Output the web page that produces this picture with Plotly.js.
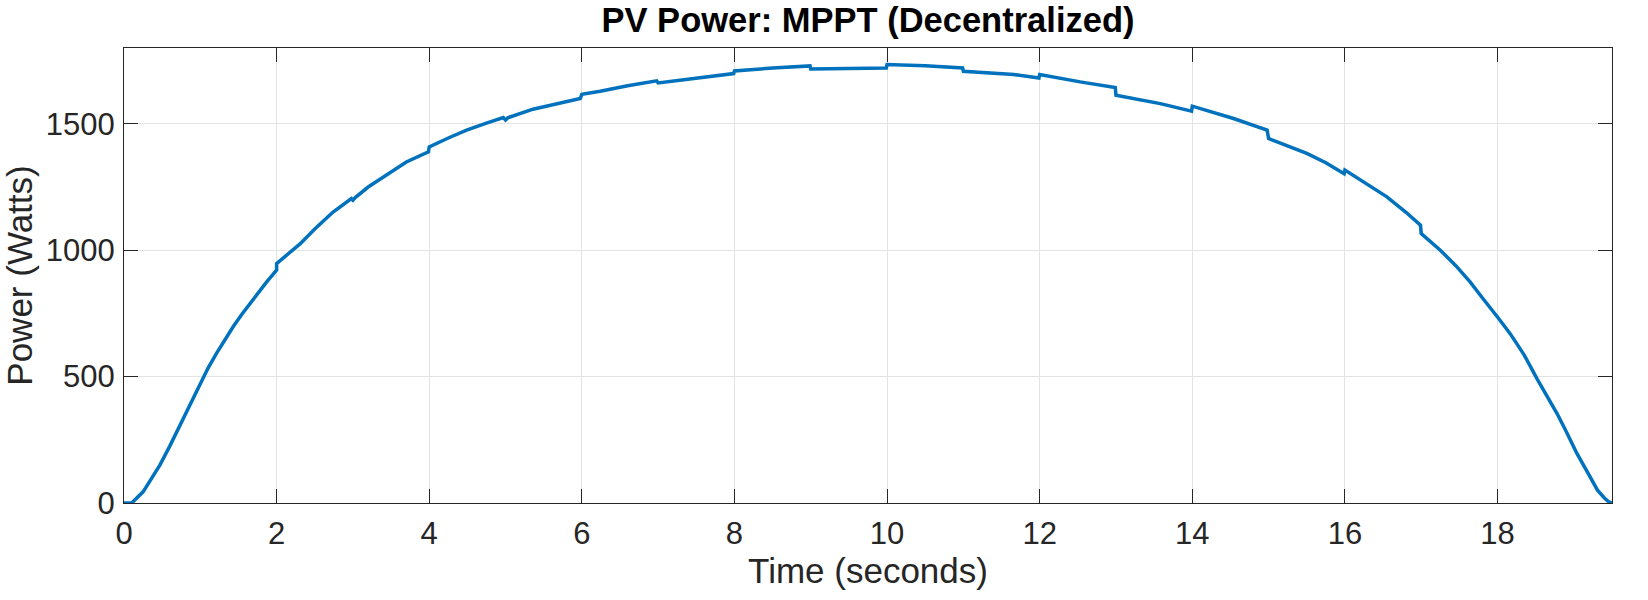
<!DOCTYPE html>
<html>
<head>
<meta charset="utf-8">
<script src="https://cdn.plot.ly/plotly-3.0.1.min.js"></script>
<style>
  html, body { margin: 0; padding: 0; background: #fff; }
  #plot { width: 1648px; height: 600px; }
</style>
</head>
<body>
<div id="plot"></div>
<script>
// PV power over time (steps happen at each MPPT update, every 1 s)
const timeSec = [
    0, 0.1, 0.25, 0.47, 0.6, 0.8, 1.0, 1.1, 1.21, 1.32, 1.43, 1.54, 1.65, 1.76, 1.87, 2.0,
    2.0, 2.31, 2.5, 2.74, 2.98, 3.0, 3.03, 3.2, 3.4, 3.7, 3.99,
    4.0, 4.25, 4.49, 4.75, 4.97, 5.0, 5.03, 5.36, 5.7, 5.98,
    6.0, 6.24, 6.6, 6.98,
    7.0, 7.64, 7.99,
    8.0, 8.5, 8.99,
    9.0, 9.99,
    10.0, 10.5, 10.99,
    11.0, 11.66, 11.99,
    12.0, 12.53, 12.99,
    13.0, 13.58, 13.99,
    14.0, 14.54, 14.98,
    15.0, 15.5, 15.75, 15.99,
    16.0, 16.25, 16.55, 16.8, 16.99,
    17.0, 17.25, 17.45, 17.64, 17.8, 17.99, 18.02, 18.17, 18.35, 18.52, 18.65, 18.78, 18.9,
    19.04, 19.18, 19.31, 19.4, 19.46, 19.5
];
const powerW = [
    0, 0, 44, 150, 225, 350, 473, 533, 591, 645, 697, 745, 789, 833, 875, 921,
    947, 1026, 1084, 1151, 1204, 1198, 1208, 1250, 1290, 1349, 1389,
    1409, 1444, 1475, 1503, 1525, 1515, 1524, 1558, 1582, 1600,
    1617, 1629, 1651, 1670,
    1662, 1686, 1699,
    1709, 1721, 1729,
    1717, 1721,
    1735, 1730, 1721,
    1708, 1695, 1681,
    1695, 1666, 1644,
    1613, 1580, 1550,
    1570, 1521, 1475,
    1442, 1383, 1346, 1303,
    1317, 1268, 1211, 1150, 1099,
    1066, 1000, 940, 875, 812, 735, 728, 668, 585, 490, 422, 354, 283,
    196, 121, 51, 20, 4, 0
];

const xTicks = [0, 2, 4, 6, 8, 10, 12, 14, 16, 18];
const yTicks = [0, 500, 1000, 1500];

const FONT = "'Liberation Sans', Arial, Helvetica, sans-serif";
const AXIS_CLR = "#262626";

const trace = {
    x: timeSec,
    y: powerW,
    mode: "lines",
    line: {color: "#0072BD", width: 3.5},
    hoverinfo: "x+y"
};

const axisStyle = {
    showline: true,
    linecolor: AXIS_CLR,
    linewidth: 1,
    mirror: "ticks",
    ticks: "inside",
    ticklen: 14,
    tickwidth: 1,
    tickcolor: AXIS_CLR,
    showgrid: true,
    gridcolor: "#e3e3e3",
    gridwidth: 1,
    zeroline: false,
    tickfont: {size: 31, family: FONT, color: AXIS_CLR}
};

const layout = {
    width: 1648,
    height: 600,
    margin: {l: 124, r: 36, t: 48, b: 97},
    paper_bgcolor: "#fff",
    plot_bgcolor: "#fff",
    showlegend: false,
    title: {
        text: "<b>PV Power: MPPT (Decentralized)</b>",
        font: {size: 34.5, family: FONT, color: "#000"},
        x: 0.5, xref: "paper",
        y: 0.967, yref: "container", yanchor: "middle"
    },
    xaxis: Object.assign({}, axisStyle, {
        range: [0, 19.5],
        tickvals: xTicks,
        ticktext: xTicks.map(String),
        ticklabelstandoff: 3,
        title: {text: "Time (seconds)", font: {size: 35, family: FONT, color: AXIS_CLR}, standoff: 0}
    }),
    yaxis: Object.assign({}, axisStyle, {
        range: [0, 1800],
        tickvals: yTicks,
        ticktext: yTicks.map(String),
        ticklabelstandoff: 2,
        title: {text: "Power (Watts)", font: {size: 35, family: FONT, color: AXIS_CLR}, standoff: 6}
    })
};

Plotly.newPlot("plot", [trace], layout, {displayModeBar: false, staticPlot: true});
</script>
</body>
</html>
